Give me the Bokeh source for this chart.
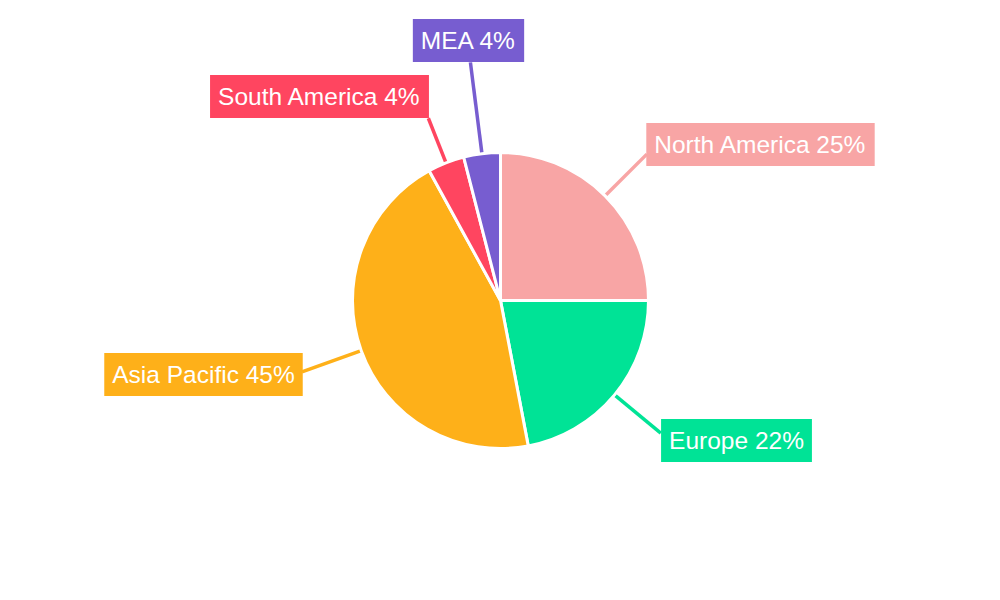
import math
from bokeh.plotting import figure
from bokeh.models import ColumnDataSource, Range1d
from bokeh.core.properties import value
from bokeh.embed import file_html
from bokeh.resources import INLINE

regions = ["North America", "Europe", "Asia Pacific", "South America", "MEA"]
shares = [25, 22, 45, 4, 4]
colors = ["#F8A5A5", "#00E396", "#FEB019", "#FF4560", "#775DD0"]

# layout: leader length from centre and label centre (page pixels)
leader_len = [207, 208, 211, 196, 240]
label_pos = [(760, 144), (736, 440), (203, 374), (319, 96), (468, 40)]

W, H = 984, 584
cx, cy, r = 500, 300, 148

p = figure(width=W, height=H, output_backend="svg", toolbar_location=None,
           x_range=Range1d(0, 984), y_range=Range1d(16, 600),
           min_border=0, outline_line_color=None)
p.axis.visible = False
p.grid.visible = False

total = sum(shares)
starts, ends, lx0, ly0, lx1, ly1 = [], [], [], [], [], []
cum = 0
for s, L in zip(shares, leader_len):
    f0 = cum / total
    f1 = (cum + s) / total
    cum += s
    starts.append(math.pi / 2 - 2 * math.pi * f1)
    ends.append(math.pi / 2 - 2 * math.pi * f0)
    mid = math.pi / 2 - 2 * math.pi * (f0 + f1) / 2
    lx0.append(cx + r * math.cos(mid))
    ly0.append(cy + r * math.sin(mid))
    lx1.append(cx + L * math.cos(mid))
    ly1.append(cy + L * math.sin(mid))

src = ColumnDataSource(dict(
    region=regions, share=shares, color=colors,
    start=starts, end=ends,
    x0=lx0, y0=ly0, x1=lx1, y1=ly1,
    tx=[x for x, _ in label_pos], ty=[600 - y for _, y in label_pos],
    label=[f"{g} {s}%" for g, s in zip(regions, shares)],
))

p.segment(x0="x0", y0="y0", x1="x1", y1="y1", line_color="color",
          line_width=3.5, source=src)
p.wedge(x=cx, y=cy, radius=r, start_angle="start", end_angle="end",
        direction="anticlock", fill_color="color", line_color="white",
        line_width=3, source=src)
p.text(x="tx", y="ty", text="label", text_align="center",
       text_baseline="middle", text_color="white",
       text_font=value("Liberation Sans"), text_font_size="24.5px",
       background_fill_color="color", padding=8, source=src)

open("out.html", "w").write(file_html(p, INLINE))
